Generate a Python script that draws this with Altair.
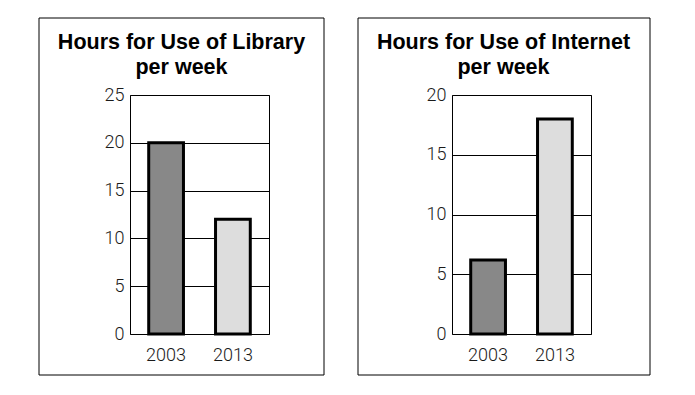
import altair as alt
import pandas as pd

years = ["2003", "2013"]
library_hours = [20, 12]
internet_hours = [6.2, 18]
bar_colors = ["#888888", "#dddddd"]

lib_df = pd.DataFrame({"year": years, "hours": library_hours})
net_df = pd.DataFrame({"year": years, "hours": internet_hours})

LABEL_FONT = "Roboto"
TITLE_FONT = "Liberation Sans"


def panel(df, title, ymax, box):
    x_scale = alt.Scale(paddingInner=0.48, paddingOuter=0.28)
    bars = alt.Chart(df).mark_bar(stroke="black", strokeWidth=3).encode(
        x=alt.X("year:N", scale=x_scale, sort=years,
                axis=alt.Axis(title=None, labelAngle=0, domain=False, ticks=False,
                              grid=False, labelPadding=12, labelFontSize=18,
                              labelFont=LABEL_FONT, labelFontWeight=300, labelColor="#1a1a1a")),
        y=alt.Y("hours:Q", scale=alt.Scale(domain=[0, ymax], nice=False),
                axis=alt.Axis(title=None, values=list(range(0, ymax + 1, 5)), domain=False,
                              ticks=False, grid=True, gridColor="black", gridWidth=1,
                              gridOpacity=1, labelPadding=6, labelFontSize=18,
                              labelFont=LABEL_FONT, labelFontWeight=300, labelColor="#1a1a1a")),
        color=alt.Color("year:N", scale=alt.Scale(domain=years, range=bar_colors), legend=None),
    )
    frame = alt.Chart(alt.Data(values=[{"k": 1}])).mark_rect(
        fillOpacity=0, stroke="black", strokeWidth=1
    ).encode(
        x=alt.value(box[0]), x2=alt.value(box[1]),
        y=alt.value(box[2]), y2=alt.value(box[3]),
    )
    return alt.layer(bars, frame).properties(
        width=139, height=239,
        title=alt.TitleParams(text=title, fontSize=21.5, font=TITLE_FONT, fontWeight="bold",
                              color="black", lineHeight=25, offset=-61, dx=-18, anchor="middle"),
    )


left = panel(lib_df, ["Hours for Use of Library", "per week"], 25, (-91, 194, -77, 280))
right = panel(net_df, ["Hours for Use of Internet", "per week"], 20, (-94, 198, -77, 280))

chart = alt.hconcat(left, right, spacing=32).properties(
    padding={"left": 30, "top": 9, "right": 5, "bottom": 5},
    background="white",
).configure_view(stroke="black", strokeWidth=1).resolve_scale(y="independent", x="independent")

chart.save("out.html", embed_options={"renderer": "svg", "actions": False})
